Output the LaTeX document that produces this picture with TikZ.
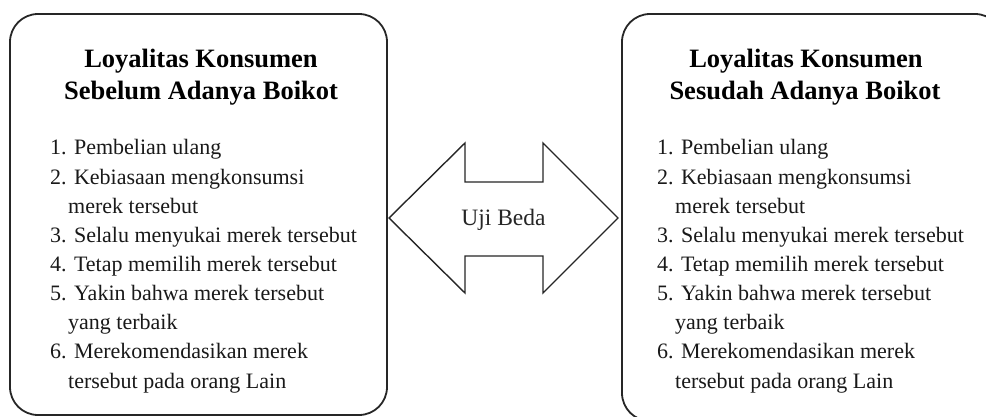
\documentclass[tikz,border=0pt]{standalone}
\usepackage{fontspec}
\setmainfont{Liberation Serif}
\begin{document}
\begin{tikzpicture}[x=1pt,y=-1pt,
  boxstyle/.style={draw=black!85,line width=1.8pt,rounded corners=28pt},
  titlestyle/.style={font=\fontsize{26.5}{32}\selectfont\bfseries,align=center,inner sep=0pt,text=black},
  itemstyle/.style={font=\fontsize{22}{29}\selectfont,anchor=base west,inner sep=0pt,text=black!90},
  arrowstyle/.style={draw=black!85,line width=1.4pt,line join=miter,fill=white},
  labelstyle/.style={font=\fontsize{23.5}{28}\selectfont,inner sep=0pt,text=black!85}]
\useasboundingbox (0,0) rectangle (986,417);
\draw[boxstyle] (10,14) rectangle (387,415);
\draw[boxstyle] (622,14) rectangle (1003,421);
\node[titlestyle,anchor=base] (LT1) at (201,68) {Loyalitas Konsumen};
\node[titlestyle,anchor=base] (LT2) at (201,100) {Sebelum Adanya Boikot};
\node[titlestyle,anchor=base] (RT1) at (806,68) {Loyalitas Konsumen};
\node[titlestyle,anchor=base] (RT2) at (805,100) {Sesudah Adanya Boikot};
\foreach \i/\dx/\txt in {0/0/{1. Pembelian ulang},1/0/{2. Kebiasaan mengkonsumsi},2/18/{merek tersebut},3/0/{3. Selalu menyukai merek tersebut},4/0/{4. Tetap memilih merek tersebut},5/0/{5. Yakin bahwa merek tersebut},6/18/{yang terbaik},7/0/{6. Merekomendasikan merek},8/18/{tersebut pada orang Lain}}{
  \node[itemstyle] (L\i) at ({50+\dx},{155+29.125*\i}) {\txt};
  \node[itemstyle] (R\i) at ({657+\dx},{155+29.125*\i}) {\txt};
}
\draw[arrowstyle] (389,218) -- (465,143) -- (465,182) -- (543,182) -- (543,143) -- (618,218) -- (543,293) -- (543,256) -- (465,256) -- (465,293) -- cycle;
\node[labelstyle] (uji) at (503.5,220) {Uji Beda};
\end{tikzpicture}
\end{document}
